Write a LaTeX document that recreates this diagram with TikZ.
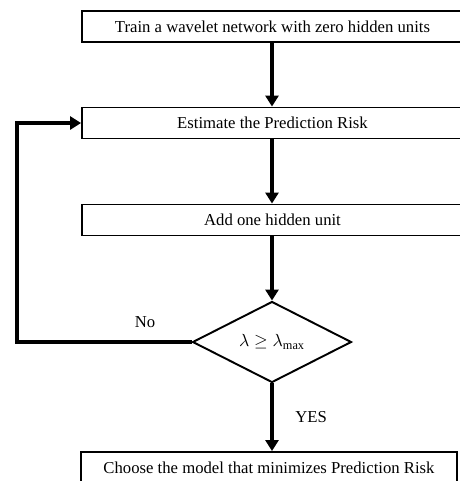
\documentclass[tikz,border=0pt]{standalone}
\usepackage{fontspec}
\setmainfont{Liberation Serif}
\usepackage{amsmath}
\usetikzlibrary{shapes.geometric,arrows.meta}

\tikzset{
  stepbox/.style={draw, line width=1.1pt, minimum width=7.62cm, minimum height=0.62cm, inner sep=0pt, font=\fontsize{9.5}{11}\selectfont},
  decide/.style={draw, diamond, line width=1.1pt, minimum width=3.18cm, minimum height=1.62cm, inner sep=0pt},
  flow/.style={line width=2.8pt, -{Triangle[length=0.22cm, width=0.26cm]}},
}

\begin{document}
\begin{tikzpicture}[x=0.02cm, y=-0.02cm]
\useasboundingbox (0,0) rectangle (460,481);
\node[stepbox] (train) at (272.5,26.5) {Train a wavelet network with zero hidden units};
\node[stepbox] (est) at (272.5,123) {Estimate the Prediction Risk};
\node[stepbox] (add) at (272.5,220) {Add one hidden unit};
\node[decide] (dec) at (272,342) {$\lambda \geq \lambda_{\max}$};
\node[stepbox, minimum width=7.52cm] (choose) at (269,467.5) {Choose the model that minimizes Prediction Risk};

\draw[flow] (train.south -| dec) -- (est.north -| dec);
\draw[flow] (est.south -| dec) -- (add.north -| dec);
\draw[flow] (add.south -| dec) -- (dec.north);
\draw[flow] (dec.south) -- node[right=0.3cm, font=\fontsize{9.5}{11}\selectfont] {YES} (choose.north -| dec);
\coordinate (back) at (17,342);
\draw[flow, line width=2.5pt] (dec.west) -- (back) |- (est.west);
\node[font=\fontsize{9.5}{11}\selectfont] (no) at (145,322) {No};

\end{tikzpicture}
\end{document}
